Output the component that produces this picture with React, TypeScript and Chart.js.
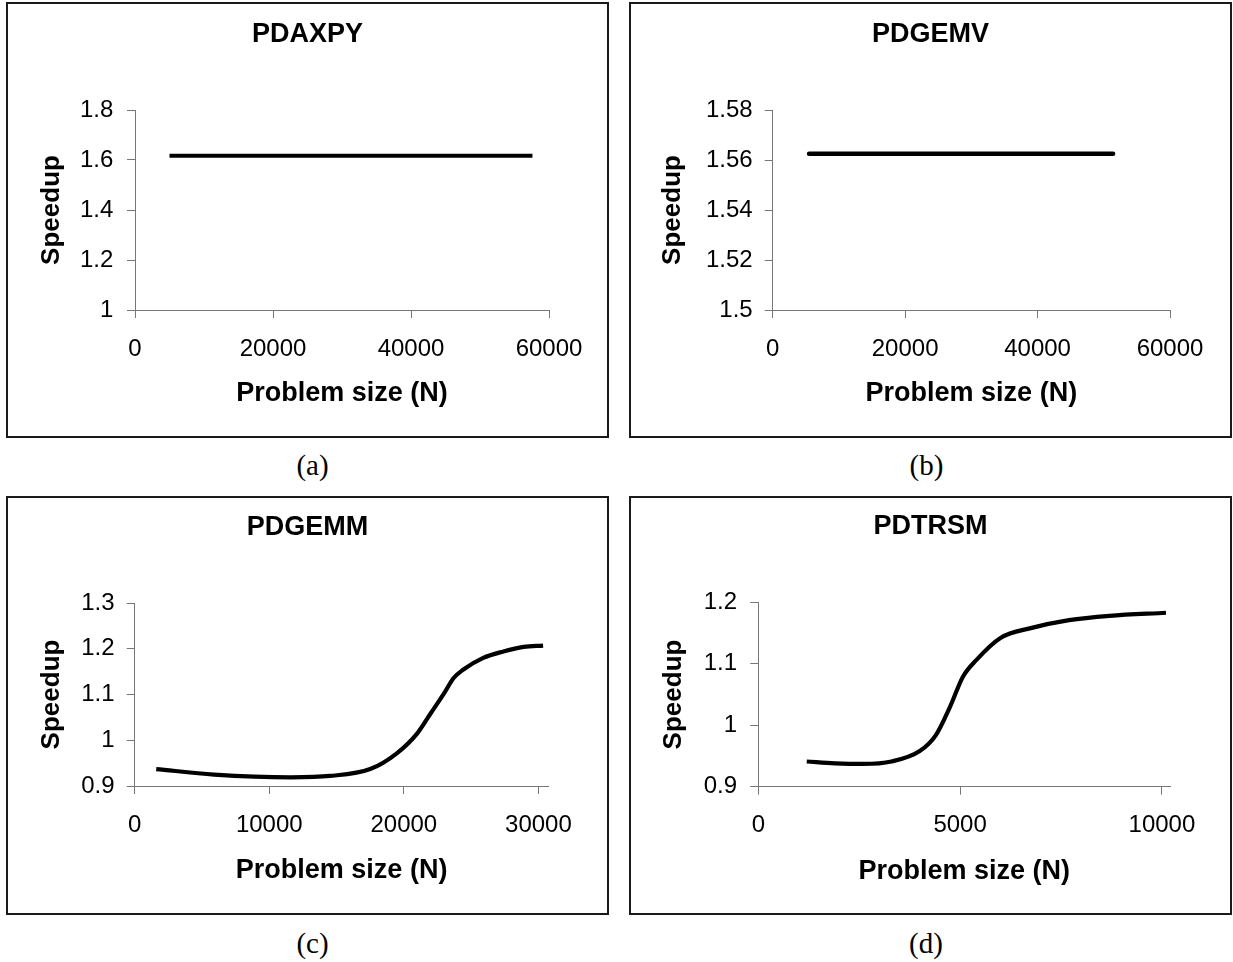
import React, { useEffect, useRef } from "react";
import { Chart, registerables } from "chart.js";

Chart.register(...registerables);

// ---------------- data ----------------
const axpyN = [5000, 10000, 15000, 20000, 25000, 30000, 35000, 40000, 45000, 50000, 55000, 57600];
const axpySpeedup = [1.617, 1.617, 1.617, 1.617, 1.617, 1.617, 1.617, 1.617, 1.617, 1.617, 1.617, 1.617];

const gemvN = [5500, 10600, 15700, 20800, 25900, 31000, 36100, 41200, 46300, 51400];
const gemvSpeedup = [1.5625, 1.5625, 1.5625, 1.5625, 1.5625, 1.5625, 1.5625, 1.5625, 1.5625, 1.5625];

const gemmN = [1600, 5900, 11600, 14500, 17500, 19500, 21000, 22000, 23000, 23700, 24400, 25900, 27400, 28900, 30350];
const gemmSpeedup = [0.937, 0.925, 0.919, 0.922, 0.937, 0.972, 1.015, 1.059, 1.103, 1.136, 1.154, 1.18, 1.194, 1.204, 1.207];

const trsmN = [1200, 1900, 2600, 3300, 4000, 4400, 4750, 5070, 5400, 6000, 6750, 7700, 8700, 10100];
const trsmSpeedup = [0.941, 0.938, 0.937, 0.941, 0.958, 0.984, 1.03, 1.079, 1.106, 1.142, 1.158, 1.171, 1.178, 1.183];

const panelTitles = ["PDAXPY", "PDGEMV", "PDGEMM", "PDTRSM"];
const captions = ["(a)", "(b)", "(c)", "(d)"];
const xAxisTitle = "Problem size (N)";
const yAxisTitle = "Speedup";

const xMax = [60000, 60000, 30750, 10200];
const xTickValues = [
  [0, 20000, 40000, 60000],
  [0, 20000, 40000, 60000],
  [0, 10000, 20000, 30000],
  [0, 5000, 10000],
];
const yMin = [1, 1.5, 0.9, 0.9];
const yMax = [1.8, 1.58, 1.3, 1.2];
const yTickValues = [
  [1, 1.2, 1.4, 1.6, 1.8],
  [1.5, 1.52, 1.54, 1.56, 1.58],
  [0.9, 1, 1.1, 1.2, 1.3],
  [0.9, 1, 1.1, 1.2],
];

const seriesN = [axpyN, gemvN, gemmN, trsmN];
const seriesS = [axpySpeedup, gemvSpeedup, gemmSpeedup, trsmSpeedup];

// ---------------- layout / style ----------------
const SANS = "'Liberation Sans', Arial, Helvetica, sans-serif";
const SERIF = "'Liberation Serif', 'Times New Roman', serif";
const AXIS = "#777";
const TICK_FONT = 24;
const TITLE_FONT = 27;
const XTITLE_FONT = 27;
const YTITLE_FONT = 26;

type Layout = {
  left: number; top: number; w: number; h: number;
  cl: number; rw: number; tTop: number; tBot: number;
  xTickPad: number; xTitlePb: number; padBottom: number;
  yTickPad: number; yTitlePt: number;
  lw: number; cap: "butt" | "round"; smooth: boolean;
  capX: number; capY: number;
};

const layouts: Layout[] = [
  { left: 6, top: 2, w: 603, h: 436, cl: 127, rw: 58, tTop: 14.5, tBot: 59.1, xTickPad: 16.6, xTitlePb: 3.8, padBottom: 22, yTickPad: 13.7, yTitlePt: 28.5, lw: 3.8, cap: "butt", smooth: false, capX: 312.5, capY: 468 },
  { left: 629, top: 2, w: 603, h: 436, cl: 141.7, rw: 60, tTop: 14.8, tBot: 58.8, xTickPad: 16.6, xTitlePb: 3.8, padBottom: 22, yTickPad: 12, yTitlePt: 26.5, lw: 4.6, cap: "round", smooth: false, capX: 926.5, capY: 468 },
  { left: 6, top: 496, w: 603, h: 419, cl: 126.7, rw: 58.5, tTop: 13.5, tBot: 59.1, xTickPad: 17, xTitlePb: 2.8, padBottom: 23, yTickPad: 12.1, yTitlePt: 28.5, lw: 4.2, cap: "butt", smooth: true, capX: 312.5, capY: 946 },
  { left: 629, top: 496, w: 603, h: 419, cl: 127.3, rw: 60, tTop: 12.8, tBot: 59.1, xTickPad: 16.5, xTitlePb: 3, padBottom: 22.3, yTickPad: 13.3, yTitlePt: 27.2, lw: 4.2, cap: "butt", smooth: true, capX: 926, capY: 946 },
];

function Panel({ idx }: { idx: number }) {
  const ref = useRef<HTMLCanvasElement>(null);
  const L = layouts[idx];
  const cw = L.w - 4;
  const ch = L.h - 4;

  useEffect(() => {
    const xs = seriesN[idx];
    const ys = seriesS[idx];
    const chart = new Chart(ref.current as HTMLCanvasElement, {
      type: "line",
      data: {
        datasets: [
          {
            data: xs.map((x, i) => ({ x, y: ys[i] })),
            borderColor: "#000",
            borderWidth: L.lw,
            borderCapStyle: L.cap,
            borderJoinStyle: "round",
            pointRadius: 0,
            fill: false,
            tension: 0,
            cubicInterpolationMode: L.smooth ? "monotone" : "default",
          } as any,
        ],
      },
      options: {
        animation: false,
        responsive: false,
        devicePixelRatio: 1,
        events: [],
        layout: { padding: { left: 0, right: 0, top: 0, bottom: L.padBottom } },
        plugins: {
          legend: { display: false },
          tooltip: { enabled: false },
          title: {
            display: true,
            text: panelTitles[idx],
            color: "#000",
            font: { family: SANS, size: TITLE_FONT, weight: "bold" },
            padding: { top: L.tTop, bottom: L.tBot },
            fullSize: true,
          },
        },
        scales: {
          x: {
            type: "linear",
            position: "bottom",
            min: 0,
            max: xMax[idx],
            afterBuildTicks: (s: any) => {
              s.ticks = xTickValues[idx].map((value) => ({ value }));
            },
            ticks: {
              autoSkip: false,
              maxRotation: 0,
              padding: L.xTickPad,
              color: "#000",
              font: { family: SANS, size: TICK_FONT },
              callback: (v: any) => String(v),
            },
            grid: { drawOnChartArea: false, drawTicks: true, tickLength: 8, color: AXIS, lineWidth: 1 },
            border: { display: true, color: AXIS, width: 1 },
            title: {
              display: true,
              text: xAxisTitle,
              color: "#000",
              font: { family: SANS, size: XTITLE_FONT, weight: "bold" },
              padding: { top: 0, bottom: L.xTitlePb },
            },
            afterFit: (s: any) => {
              s.height = 104;
            },
          },
          y: {
            type: "linear",
            position: "left",
            min: yMin[idx],
            max: yMax[idx],
            afterBuildTicks: (s: any) => {
              s.ticks = yTickValues[idx].map((value) => ({ value }));
            },
            ticks: {
              autoSkip: false,
              padding: L.yTickPad,
              color: "#000",
              font: { family: SANS, size: TICK_FONT },
              callback: (v: any) => String(v),
            },
            grid: { drawOnChartArea: false, drawTicks: true, tickLength: 8, color: AXIS, lineWidth: 1 },
            border: { display: true, color: AXIS, width: 1 },
            title: {
              display: true,
              text: yAxisTitle,
              color: "#000",
              font: { family: SANS, size: YTITLE_FONT, weight: "bold" },
              padding: { top: L.yTitlePt, bottom: 0 },
            },
            afterFit: (s: any) => {
              s.width = L.cl;
            },
          },
          yR: {
            type: "linear",
            position: "right",
            display: true,
            grid: { display: false },
            border: { display: false },
            ticks: { display: false },
            afterFit: (s: any) => {
              s.width = L.rw;
            },
          },
        },
      } as any,
    });
    return () => chart.destroy();
  }, [idx]);

  return (
    <>
      <div
        style={{
          position: "absolute",
          left: L.left,
          top: L.top,
          width: L.w,
          height: L.h,
          boxSizing: "border-box",
          border: "2px solid #1a1a1a",
          background: "#fff",
        }}
      >
        <canvas
          ref={ref}
          width={cw}
          height={ch}
          style={{ display: "block", width: cw, height: ch }}
        />
      </div>
      <div
        style={{
          position: "absolute",
          left: L.capX - 60,
          top: L.capY - 19,
          width: 120,
          textAlign: "center",
          fontFamily: SERIF,
          fontSize: 29,
          lineHeight: "33px",
          color: "#000",
        }}
      >
        {captions[idx]}
      </div>
    </>
  );
}

export default function App() {
  return (
    <div
      style={{
        position: "absolute",
        left: 0,
        top: 0,
        width: 1233,
        height: 962,
        background: "#fff",
        overflow: "hidden",
      }}
    >
      {[0, 1, 2, 3].map((i) => (
        <Panel key={i} idx={i} />
      ))}
    </div>
  );
}
